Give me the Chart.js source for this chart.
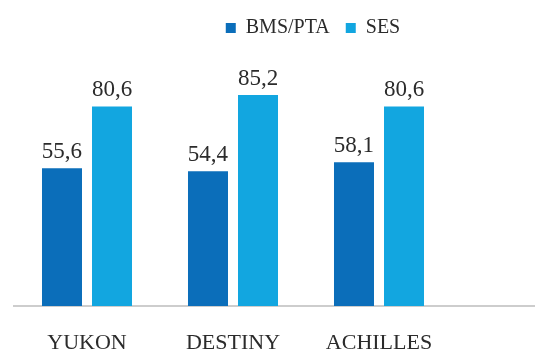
<!DOCTYPE html>
<html>
<head>
<meta charset="utf-8">
<script src="https://cdn.jsdelivr.net/npm/chart.js@4"></script>
<style>
  html, body { margin: 0; padding: 0; background: #fff; }
  #wrap { width: 535px; height: 353px; }
</style>
</head>
<body>
<div id="wrap"><canvas id="chart"></canvas></div>
<script>
const categories = ["YUKON", "DESTINY", "ACHILLES"];
const bmsPta = [55.6, 54.4, 58.1];
const ses = [80.6, 85.2, 80.6];
const seriesNames = ["BMS/PTA", "SES"];

const fontFamily = "'Liberation Serif', 'DejaVu Serif', serif";
const textColor = "#2b2b2b";

// value labels above the bars, with decimal comma
const valueLabels = {
  id: "valueLabels",
  afterDatasetsDraw(chart) {
    const ctx = chart.ctx;
    ctx.save();
    ctx.font = "23px " + fontFamily;
    ctx.fillStyle = textColor;
    ctx.textAlign = "center";
    ctx.textBaseline = "alphabetic";
    chart.data.datasets.forEach((ds, i) => {
      chart.getDatasetMeta(i).data.forEach((bar, j) => {
        const txt = ds.data[j].toFixed(1).replace(".", ",");
        ctx.fillText(txt, bar.x, bar.y - 10);
      });
    });
    ctx.restore();
  },
};

// baseline runs across the whole width, past the last group
const baseLine = {
  id: "baseLine",
  beforeDatasetsDraw(chart) {
    const ctx = chart.ctx;
    const y = chart.scales.y.getPixelForValue(0);
    ctx.save();
    ctx.strokeStyle = "#bdbdbd";
    ctx.lineWidth = 1.5;
    ctx.beginPath();
    ctx.moveTo(13, y);
    ctx.lineTo(chart.width, y);
    ctx.stroke();
    ctx.restore();
  },
};

// legend sits right of centre in the original
const legendShift = {
  id: "legendShift",
  afterLayout(chart) {
    const lg = chart.legend;
    const dx = 313 - (lg.left + lg.right) / 2;
    lg.left += dx;
    lg.right += dx;
    lg.top += 2;
    lg.bottom += 2;
  },
};

new Chart(document.getElementById("chart"), {
  type: "bar",
  data: {
    labels: categories,
    datasets: [
      {
        label: seriesNames[0],
        data: bmsPta,
        backgroundColor: "#0b6eba",
        categoryPercentage: 0.685,
        barPercentage: 0.8,
      },
      {
        label: seriesNames[1],
        data: ses,
        backgroundColor: "#12a6e0",
        categoryPercentage: 0.685,
        barPercentage: 0.8,
      },
    ],
  },
  options: {
    responsive: true,
    maintainAspectRatio: false,
    animation: false,
    layout: { padding: { left: 14, right: 83, top: 0, bottom: 0 } },
    plugins: {
      legend: {
        position: "top",
        labels: {
          boxWidth: 10,
          boxHeight: 10,
          padding: 16,
          color: textColor,
          font: { family: fontFamily, size: 20 },
        },
      },
      tooltip: { enabled: false },
    },
    scales: {
      x: {
        grid: { display: false, drawTicks: false },
        border: { display: false },
        ticks: {
          color: textColor,
          padding: 26,
          font: { family: fontFamily, size: 22, lineHeight: 1 },
        },
        afterFit(scale) {
          scale.height = 47;
        },
      },
      y: {
        display: false,
        min: 0,
        max: 105,
      },
    },
  },
  plugins: [valueLabels, baseLine, legendShift],
});
</script>
</body>
</html>
